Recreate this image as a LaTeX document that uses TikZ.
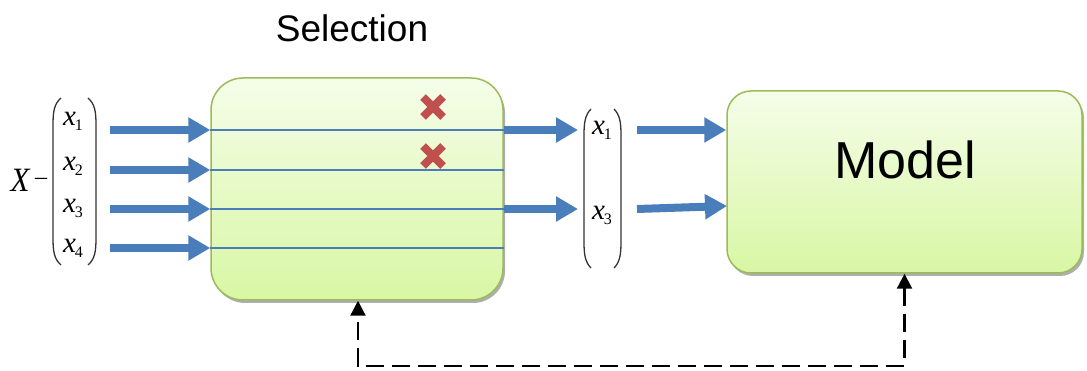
\documentclass[tikz,border=0pt]{standalone}
\usepackage{fontspec}
\setmainfont{Liberation Serif}
\newfontfamily\sansf{Liberation Sans}
\usetikzlibrary{arrows.meta,shadows}
\definecolor{arrowblue}{HTML}{4A7EBB}
\definecolor{boxborder}{HTML}{9BBB59}
\definecolor{boxtop}{HTML}{F5FDE9}
\definecolor{boxbot}{HTML}{D8F7A4}
\definecolor{crossred}{HTML}{C0504D}
\newcommand{\ent}[1]{{\fontsize{29}{29}\selectfont\itshape x}\kern-1pt\raisebox{-5pt}{\fontsize{16}{16}\selectfont #1}}
\begin{document}
\begin{tikzpicture}[x=1pt,y=-1pt,
  gbox/.style={draw=boxborder, line width=1.5pt, top color=boxtop, bottom color=boxbot,
    drop shadow={shadow xshift=2pt, shadow yshift=-3pt, fill=black!45, opacity=0.7},
    inner sep=0pt},
  bigarrow/.style={draw=arrowblue, line width=8pt, -{Triangle[length=22pt,width=24pt]}},
  chanline/.style={draw=arrowblue, line width=1.5pt},
  paren/.style={draw=black!80, line width=1.3pt},
  fb/.style={draw=black, line width=2.4pt, dash pattern=on 18pt off 8pt,
    {Triangle[length=15pt,width=15pt]}-{Triangle[length=15pt,width=15pt]}},
  entry/.style={inner sep=0pt, anchor=center},
  xmark/.style={draw=crossred, line width=8pt}]
\useasboundingbox (0,0) rectangle (1087,371);

% boxes
\node[gbox, rounded corners=32pt, minimum width=292pt, minimum height=222pt] (sel) at (357,189) {};
\node[gbox, rounded corners=24pt, minimum width=355pt, minimum height=182pt] (model) at (904.5,182) {};
\node[font=\sansf\fontsize{37}{37}\selectfont, inner sep=0pt] (seltitle) at (352,28) {Selection};
\node[font=\sansf\fontsize{52}{52}\selectfont, inner sep=0pt] (modeltxt) at (905,160) {Model};

% left vector
\node[inner sep=0pt, font=\fontsize{31}{31}\selectfont\itshape, yscale=1.1] (X) at (20,180) {X};
\node[inner sep=0pt, font=\fontsize{24}{24}\selectfont] (minus) at (41,181) {–};
\node[entry] (l1) at (73,121) {\ent{1}};
\node[entry] (l2) at (73,166) {\ent{2}};
\node[entry] (l3) at (73,208) {\ent{3}};
\node[entry] (l4) at (73,248) {\ent{4}};
\draw[paren] (61,98) .. controls (54,104) and (53,112) .. (53,125) -- (53,238) .. controls (53,251) and (54,259) .. (61,265);
\draw[paren] (88,98) .. controls (95,104) and (96,112) .. (96,125) -- (96,238) .. controls (96,251) and (95,259) .. (88,265);

% right vector
\node[entry] (r1) at (602,130) {\ent{1}};
\node[entry] (r3) at (602,215) {\ent{3}};
\draw[paren] (591,109) .. controls (585,115) and (584,123) .. (584,135) -- (584,242) .. controls (584,254) and (585,262) .. (591,268);
\draw[paren] (614,109) .. controls (620,115) and (621,123) .. (621,135) -- (621,242) .. controls (621,254) and (620,262) .. (614,268);

% channel lines
\coordinate (c1) at (0,130);
\coordinate (c2) at (0,170);
\coordinate (c3) at (0,209);
\coordinate (c4) at (0,248);
\foreach \i in {1,...,4} {
  \draw[chanline] (sel.west |- c\i) -- (sel.east |- c\i);
}

% input arrows
\foreach \i in {1,...,4} {
  \draw[bigarrow] (110,0 |- c\i) coordinate (s\i) -- (sel.west |- c\i);
}

% output arrows
\coordinate (o1) at (578,130);
\coordinate (o3) at (578,209);
\draw[bigarrow] (sel.east |- c1) -- (o1);
\draw[bigarrow] (sel.east |- c3) -- (o3);

% to model
\coordinate (m1) at (637,130);
\coordinate (m3) at (637,209);
\coordinate (m3e) at (727,206);
\draw[bigarrow] (m1) -- (model.west |- m1);
\draw[bigarrow] (m3) -- (m3e);

% red crosses
\coordinate (x1) at (433,107);
\coordinate (x2) at (433,156);
\foreach \c in {x1,x2} {
  \draw[xmark] ([shift={(-10,-10)}]\c) -- ([shift={(10,10)}]\c);
  \draw[xmark] ([shift={(-10,10)}]\c) -- ([shift={(10,-10)}]\c);
}

% feedback
\coordinate (fbbase) at (0,366);
\draw[fb] (model.south) -- (model.south |- fbbase) -- (358,366) -- (358,0 |- sel.south);
\end{tikzpicture}
\end{document}
